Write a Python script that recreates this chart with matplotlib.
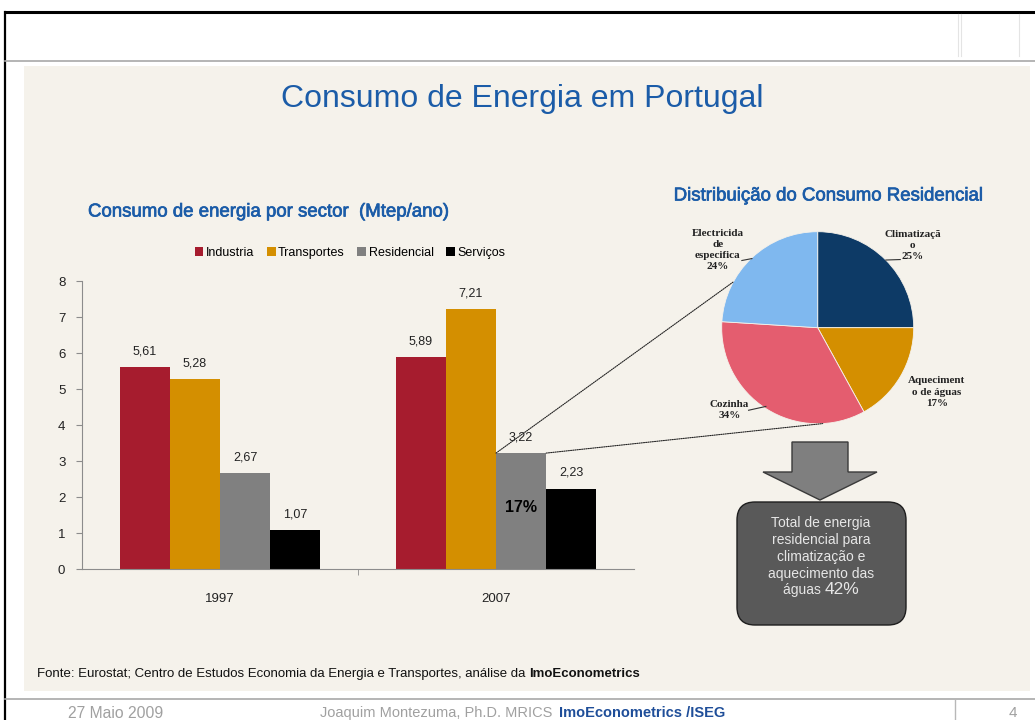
import matplotlib
matplotlib.use("Agg")
import matplotlib.pyplot as plt
import matplotlib.patheffects as pe
from matplotlib.patches import Rectangle, Polygon, FancyBboxPatch, Patch, ConnectionPatch
import numpy as np

plt.rcParams["font.family"] = ["Liberation Sans", "DejaVu Sans"]

# data
years = ["1997", "2007"]
sectors = ["Industria", "Transportes", "Residencial", "Serviços"]
industria = [5.61, 5.89]
transportes = [5.28, 7.21]
residencial = [2.67, 3.22]
servicos = [1.07, 2.23]
sector_colors = ["#A61C2E", "#D48F00", "#808080", "#000000"]

pie_names = ["Climatizaçã\no", "Aqueciment\no de águas", "Cozinha", "Electricida\nde\nespecifica"]
pie_shares = [25, 17, 34, 24]
pie_colors = ["#0D3A66", "#D48F00", "#E45D6F", "#7FB8EF"]

BLUE = "#1B5CA8"
W, H = 1035, 720

fig = plt.figure(figsize=(W / 100, H / 100), dpi=100)
fig.patch.set_facecolor("white")

# background axes in pixel coordinates (y down)
bg = fig.add_axes([0, 0, 1, 1])
bg.set_xlim(0, W)
bg.set_ylim(H, 0)
bg.axis("off")


def px_axes(x0, y0, x1, y1):
    return fig.add_axes([x0 / W, 1 - y1 / H, (x1 - x0) / W, (y1 - y0) / H])


def after(t, s, gap=0, **kw):
    # put text s right after text artist t
    r = fig.canvas.get_renderer()
    bb = t.get_window_extent(r)
    x = bg.transData.inverted().transform((bb.x1, 0))[0]
    return bg.text(x + gap, t.get_position()[1], s, va=t.get_va(), ha="left", **kw)


# slide frame
bg.plot([5, W], [12, 12], color="black", lw=2.2, solid_capstyle="butt")
bg.plot([5, 5], [12, H], color="black", lw=1.6)
bg.plot([5, W], [61, 61], color="#a8a8a8", lw=1.2)
bg.plot([5, W], [699, 699], color="#a8a8a8", lw=1.2)
bg.plot([955, 955], [700, H], color="#b8b8b8", lw=1)
for xv in (958, 961, 1019):
    bg.plot([xv, xv], [14, 56], color="#e4e4e4", lw=0.8)
bg.add_patch(Rectangle((24, 66), 1006, 625, facecolor="#F5F2EB", edgecolor="none"))

# titles
bg.text(522, 99, "Consumo de Energia em Portugal", ha="center", va="center",
        fontsize=23, color=BLUE)
sub_fx = [pe.withStroke(linewidth=0.5, foreground=BLUE)]
bg.text(88, 212, "Consumo de energia por sector  (Mtep/ano)", ha="left", va="center",
        fontsize=13.4, color=BLUE, path_effects=sub_fx)
bg.text(828, 196, "Distribuição do Consumo Residencial", ha="center", va="center",
        fontsize=13.4, color=BLUE, path_effects=sub_fx)

# bar chart
ax = px_axes(82, 281, 634, 569)
ax.set_facecolor("none")
x = np.arange(len(years))
w = 0.182
series = [industria, transportes, residencial, servicos]
containers = []
for i, (name, vals, c) in enumerate(zip(sectors, series, sector_colors)):
    b = ax.bar(x + (i - 1.5) * w, vals, w, color=c, label=name, linewidth=0)
    ax.bar_label(b, labels=[f"{v:.2f}".replace(".", ",") for v in vals],
                 padding=7, fontsize=9, color="#222222")
    containers.append(b)

ax.set_xlim(-0.5, 1.5)
ax.set_ylim(0, 8)
for s in ("top", "right"):
    ax.spines[s].set_visible(False)
for s in ("left", "bottom"):
    ax.spines[s].set_color("#8c8c8c")
ax.set_yticks(range(9))
ax.tick_params(axis="y", length=4, color="#8c8c8c", labelsize=9.5, pad=8, labelcolor="#222222")
ax.set_xticks(x, years)
ax.tick_params(axis="x", length=0, pad=17, labelsize=9.5, labelcolor="#222222")
ax.set_xticks([0.5], minor=True)
ax.tick_params(axis="x", which="minor", length=4, color="#8c8c8c")

# share of residential in 2007
res_bar = containers[2][1]
share = round(100 * residencial[1] / sum(s[1] for s in series))
ax.text(res_bar.get_x() + res_bar.get_width() / 2, 1.7, f"{share}%", ha="center", va="center",
        fontsize=11.5, fontweight="bold", color="black")

handles = [Patch(facecolor=c, label=n) for n, c in zip(sectors, sector_colors)]
ax.legend(handles=handles, loc="center", bbox_to_anchor=(350, 253), bbox_transform=bg.transData,
          ncol=4, frameon=False, fontsize=9, handlelength=0.7, handleheight=0.7,
          handletextpad=0.2, columnspacing=1.0, borderpad=0)

# pie chart
cx, cy, R = 817.7, 327.7, 96
pax = px_axes(cx - R, cy - R, cx + R, cy + R)
pax.pie(pie_shares, colors=pie_colors, startangle=90, counterclock=False,
        wedgeprops=dict(edgecolor="#F5F2EB", linewidth=0.6))
pax.set_xlim(-1, 1)
pax.set_ylim(-1, 1)
pax.axis("off")

label_pos = [(0.99, 0.86), (1.24, -0.67), (-0.92, -0.86), (-1.04, 0.81)]
leaders = [[(0.71, 0.705), (0.86, 0.71)], None,
           [(-0.54, -0.82), (-0.72, -0.86)], [(-0.685, 0.72), (-0.79, 0.70)]]
for name, sh, (lx, ly), ld in zip(pie_names, pie_shares, label_pos, leaders):
    pax.text(lx, ly, f"{name}\n{sh}%", ha="center", va="center", fontsize=8,
             fontweight="bold", family="Liberation Serif", color="#222222", linespacing=1.3)
    if ld:
        pax.plot([ld[0][0], ld[1][0]], [ld[0][1], ld[1][1]], color="#333333", lw=0.8, clip_on=False)

# zoom lines from residential 2007 bar to the pie
top = res_bar.get_height()
for xa, ang in ((res_bar.get_x(), 151.5), (res_bar.get_x() + res_bar.get_width(), -87)):
    con = ConnectionPatch(xyA=(xa, top), coordsA=ax.transData,
                          xyB=(np.cos(np.radians(ang)), np.sin(np.radians(ang))), coordsB=pax.transData,
                          linestyle=(0, (1, 1)), color="#222222", lw=0.8)
    fig.add_artist(con)

# arrow and box
bg.add_patch(Polygon([(792, 442), (848, 442), (848, 472), (877, 472), (820, 500), (763, 472), (792, 472)],
                     closed=True, facecolor="#7f7f7f", edgecolor="#3a3a3a", lw=1))
bg.add_patch(FancyBboxPatch((737, 502), 169, 123, boxstyle="round,pad=0,rounding_size=18",
                            facecolor="#595959", edgecolor="#1e1e1e", lw=1))
box_lines = ["Total de energia", "residencial para", "climatização e", "aquecimento das"]
for k, line in enumerate(box_lines):
    bg.text(821, 523 + 17 * k, line, ha="center", va="center", fontsize=10, color="#E6E6E6")
heat = pie_shares[0] + pie_shares[1]
t1 = bg.text(0, 590, "águas ", ha="left", va="center", fontsize=10, color="#E6E6E6")
t2 = after(t1, f"{heat}%", fontsize=12.5, color="#E6E6E6")
r = fig.canvas.get_renderer()
wtot = (t1.get_window_extent(r).width + t2.get_window_extent(r).width)
t1.set_x(821 - wtot / 2)
t2.set_x(821 - wtot / 2 + t1.get_window_extent(r).width)

# footers
f1 = bg.text(37, 674, "Fonte: Eurostat; Centro de Estudos Economia da Energia e Transportes, análise da ",
             ha="left", va="center", fontsize=9.5, color="#111111")
after(f1, "ImoEconometrics", fontsize=9.5, fontweight="bold", color="#111111")

bg.text(68, 713, "27 Maio 2009", ha="left", va="center", fontsize=11.3, color="#A0A0A0")
j1 = bg.text(320, 713, "Joaquim Montezuma, Ph.D. MRICS", ha="left", va="center", fontsize=10.5, color="#A0A0A0")
after(j1, "ImoEconometrics /ISEG", gap=7, fontsize=10.5, fontweight="bold", color="#1F4E99")
bg.text(1013, 713, "4", ha="center", va="center", fontsize=11, color="#A0A0A0")

fig.savefig("out.png", dpi=100, facecolor="white")
